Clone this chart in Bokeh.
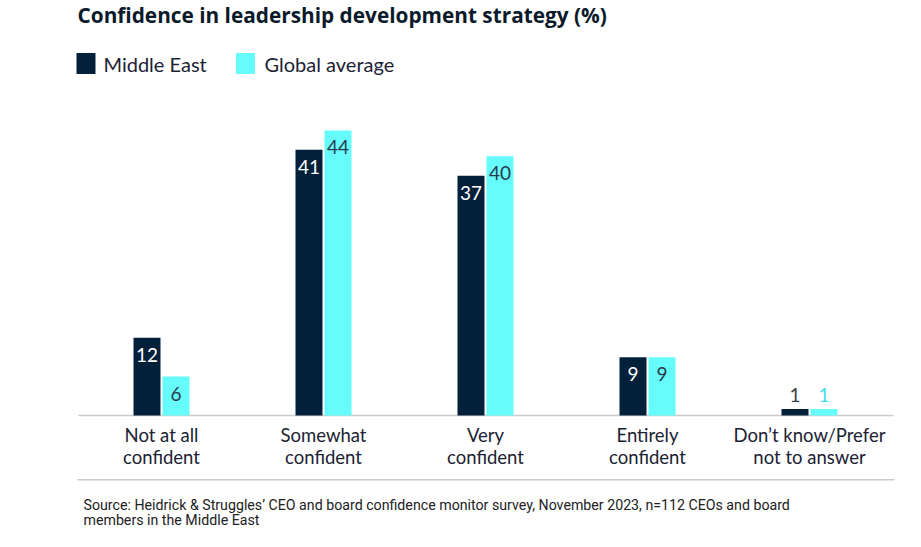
from bokeh.plotting import figure
from bokeh.models import Range1d, ColumnDataSource
from bokeh.core.properties import value
from bokeh.embed import file_html
from bokeh.resources import INLINE

# ---- data ----
categories = ["Not at all\nconfident", "Somewhat\nconfident", "Very\nconfident",
              "Entirely\nconfident", "Don\u2019t know/Prefer\nnot to answer"]
middle_east = [12, 41, 37, 9, 1]
global_avg = [6, 44, 40, 9, 1]
series_names = ["Middle East", "Global average"]
title_text = "Confidence in leadership development strategy (%)"
source_lines = ["Source: Heidrick & Struggles\u2019 CEO and board confidence monitor survey, November 2023, n=112 CEOs and board",
                "members in the Middle East"]

# ---- layout helpers (pixel -> data) ----
ORIGIN = 0
W, H = 913, 540
PXU_X = 162.0
PXU_Y = 6.48
XS = (ORIGIN - 161) / PXU_X + 0.5
XE = XS + W / PXU_X
YE = (415 - ORIGIN) / PXU_Y
YS = YE - H / PXU_Y

def X(px):
    return XS + (px - ORIGIN) / PXU_X

def Y(py):
    return YE - (py - ORIGIN) / PXU_Y

DARK = "#03203A"
CYAN = "#66FCFC"
FONT = "Lato"

p = figure(width=W, height=H, output_backend="svg", toolbar_location=None,
           x_range=Range1d(XS, XE), y_range=Range1d(YS, YE),
           min_border=0, min_border_left=0, min_border_right=0,
           min_border_top=0, min_border_bottom=0)
p.axis.visible = False
p.grid.visible = False
p.outline_line_color = None
p.background_fill_color = "white"

n = len(categories)
centers = [i + 0.5 for i in range(n)]
off = 0.0895
bw = 0.1667

# baseline
p.segment(x0=[X(78)], y0=[0], x1=[X(893)], y1=[0], line_color="#cccccc", line_width=1.5)

# bars
src = ColumnDataSource(dict(
    x_me=[c - off for c in centers], x_gl=[c + off for c in centers],
    me=middle_east, gl=global_avg))
p.vbar(x="x_me", top="me", bottom=0, width=bw, source=src, fill_color=DARK, line_color=None)
p.vbar(x="x_gl", top="gl", bottom=0, width=bw, source=src, fill_color=CYAN, line_color=None)

# value labels
def add_labels(xs, vals, inside_color, outside_color):
    inside = [v >= 5 for v in vals]
    xi = [x for x, f in zip(xs, inside) if f]
    vi = [v for v, f in zip(vals, inside) if f]
    xo = [x for x, f in zip(xs, inside) if not f]
    vo = [v for v, f in zip(vals, inside) if not f]
    if xi:
        p.text(x=xi, y=vi, text=[str(v) for v in vi], y_offset=17,
               text_align="center", text_baseline="middle",
               text_font=value(FONT), text_font_size="19px", text_color=inside_color)
    if xo:
        p.text(x=xo, y=vo, text=[str(v) for v in vo], y_offset=-14,
               text_align="center", text_baseline="middle",
               text_font=value(FONT), text_font_size="19px", text_color=outside_color)

add_labels([c - off for c in centers], middle_east, "white", "#3a3f47")
add_labels([c + off for c in centers], global_avg, "#2a3a4c", "#3FE0E8")

# category labels
line1 = [c.split("\n")[0] for c in categories]
line2 = [c.split("\n")[1] for c in categories]
p.text(x=centers, y=[Y(434)] * n, text=line1, text_align="center", text_baseline="middle",
       text_font=value(FONT), text_font_size="18.5px", text_color="#1b2233")
p.text(x=centers, y=[Y(456.5)] * n, text=line2, text_align="center", text_baseline="middle",
       text_font=value(FONT), text_font_size="18.5px", text_color="#1b2233")

# title
p.text(x=[X(77)], y=[Y(14)], text=[title_text], text_align="left", text_baseline="middle",
       text_font=value("Open Sans"), text_font_style="bold", text_font_size="20.8px", text_color="#0b1a2b")

# legend
sq_x = [X(85.5), X(245)]
p.rect(x=sq_x, y=[Y(63)] * 2, width=19, height=21, width_units="screen", height_units="screen",
       fill_color=[DARK, CYAN], line_color=None)
p.text(x=[X(103), X(264)], y=[Y(63)] * 2, text=series_names, text_align="left",
       text_baseline="middle", text_font=value(FONT), text_font_size="20px", text_color="#1b2233")

# divider
p.segment(x0=[X(77)], y0=[Y(479.3)], x1=[X(894)], y1=[Y(479.3)], line_color="#cccccc", line_width=1.5)

# source
p.text(x=[X(83)] * 2, y=[Y(504), Y(519.5)], text=source_lines, text_align="left",
       text_baseline="middle", text_font=value("Roboto"), text_font_size="14.2px", text_color="#222222")

open("out.html", "w").write(file_html(p, INLINE))
